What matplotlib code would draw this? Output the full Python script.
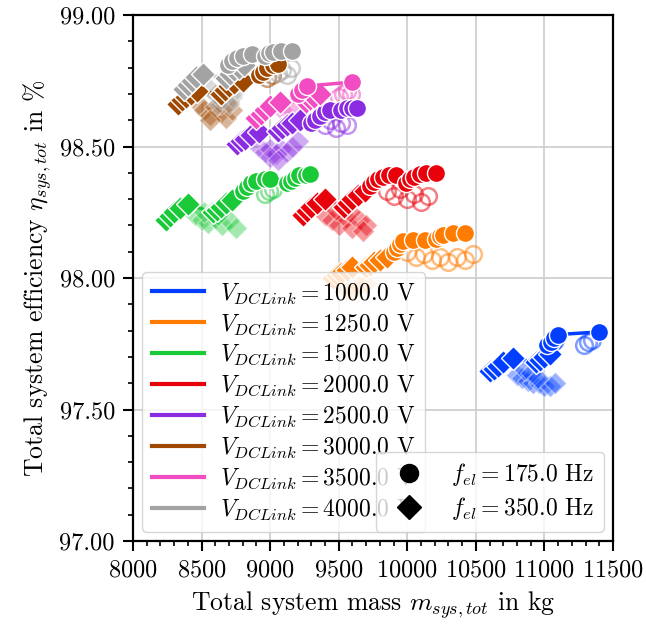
import matplotlib
matplotlib.use("Agg")
import matplotlib.pyplot as plt
from matplotlib.lines import Line2D
from matplotlib.ticker import MultipleLocator, FormatStrFormatter

plt.rcParams['font.family'] = 'serif'
plt.rcParams['font.serif'] = ['cmr10', 'DejaVu Serif']
plt.rcParams['mathtext.fontset'] = 'cm'
plt.rcParams['axes.unicode_minus'] = False
plt.rcParams['axes.formatter.use_mathtext'] = True

voltages = [1000.0, 1250.0, 1500.0, 2000.0, 2500.0, 3000.0, 3500.0, 4000.0]
colors = ['#023eff', '#ff7c00', '#1ac938', '#e8000b',
          '#8b2be2', '#9f4800', '#f14cc1', '#a3a3a3']

# f_el = 175 Hz, filled circles
circ_x = [
    [11020, 11045, 11070, 11100, 11400],
    [9900, 9925, 9950, 9970, 10040, 10130, 10210, 10240, 10260, 10330, 10420],
    [8800, 8830, 8860, 8900, 8960, 9000, 9120, 9150, 9180, 9210, 9260, 9290],
    [9730, 9760, 9790, 9820, 9870, 9920, 9990, 10020, 10050, 10090, 10140, 10210],
    [9300, 9330, 9360, 9400, 9440, 9520, 9560, 9600, 9630],
    [8920, 8950, 8980, 9020, 9060],
    [9200, 9230, 9270, 9600],
    [8690, 8720, 8760, 8800, 8870, 8960, 8990, 9020, 9080, 9160],
]
circ_y = [
    [97.745, 97.757, 97.77, 97.785, 97.795],
    [98.10, 98.115, 98.13, 98.14, 98.145, 98.145, 98.15, 98.16, 98.165, 98.17, 98.17],
    [98.33, 98.345, 98.36, 98.37, 98.375, 98.375, 98.36, 98.37, 98.38, 98.39, 98.39, 98.395],
    [98.35, 98.365, 98.375, 98.385, 98.39, 98.39, 98.36, 98.375, 98.385, 98.395, 98.40, 98.40],
    [98.59, 98.60, 98.615, 98.63, 98.64, 98.64, 98.645, 98.645, 98.645],
    [98.77, 98.785, 98.80, 98.81, 98.815],
    [98.70, 98.715, 98.73, 98.745],
    [98.81, 98.825, 98.835, 98.845, 98.85, 98.845, 98.855, 98.86, 98.865, 98.865],
]

# f_el = 350 Hz, filled diamonds
dia_x = [
    [10600, 10630, 10660, 10700, 10770, 10940, 10970, 11000, 11040],
    [9460, 9490, 9520, 9560, 9600, 9700, 9730, 9760, 9800, 9850],
    [8240, 8270, 8300, 8340, 8400, 8580, 8610, 8640, 8680, 8720],
    [9240, 9270, 9300, 9340, 9400, 9540, 9570, 9600, 9640, 9690],
    [8760, 8790, 8820, 8860, 8920, 9060, 9090, 9120, 9160, 9220],
    [8330, 8360, 8390, 8420, 8470, 8640, 8670, 8700, 8740, 8800],
    [8900, 8930, 8960, 9000, 9070, 9260, 9290, 9320, 9360],
    [8370, 8400, 8430, 8460, 8510, 8680, 8710, 8740, 8770, 8810],
]
dia_y = [
    [97.645, 97.655, 97.665, 97.68, 97.695, 97.68, 97.69, 97.70, 97.71],
    [98.00, 98.01, 98.02, 98.03, 98.04, 98.04, 98.05, 98.06, 98.07, 98.08],
    [98.22, 98.235, 98.25, 98.265, 98.28, 98.25, 98.26, 98.27, 98.285, 98.295],
    [98.24, 98.255, 98.27, 98.285, 98.30, 98.27, 98.285, 98.30, 98.315, 98.33],
    [98.51, 98.52, 98.53, 98.545, 98.555, 98.56, 98.57, 98.58, 98.59, 98.60],
    [98.66, 98.675, 98.69, 98.70, 98.71, 98.70, 98.715, 98.73, 98.74, 98.75],
    [98.61, 98.625, 98.64, 98.655, 98.67, 98.67, 98.68, 98.69, 98.70],
    [98.72, 98.735, 98.75, 98.765, 98.775, 98.76, 98.775, 98.79, 98.80, 98.81],
]

# faded variants (open circles / light diamonds)
open_circ_x = [
    [11060, 11080, 11290, 11320, 11350],
    [10000, 10060, 10120, 10180, 10240, 10300, 10360, 10420, 10480],
    [8960, 8990, 9020],
    [9850, 9900, 9950, 10000, 10050, 10100, 10150],
    [9400, 9440, 9480, 9520, 9560],
    [8980, 9010],
    [9500, 9530, 9560, 9590],
    [9060, 9090, 9120, 9150],
]
open_circ_y = [
    [97.755, 97.765, 97.745, 97.755, 97.765],
    [98.10, 98.08, 98.09, 98.07, 98.08, 98.06, 98.08, 98.07, 98.09],
    [98.32, 98.33, 98.34],
    [98.33, 98.31, 98.34, 98.30, 98.32, 98.29, 98.31],
    [98.58, 98.60, 98.57, 98.59, 98.58],
    [98.76, 98.77],
    [98.69, 98.70, 98.71, 98.70],
    [98.78, 98.79, 98.77, 98.80],
]
light_dia_x = [
    [10800, 10840, 10880, 10920, 10960, 11000, 11040, 11080, 10860, 10900, 10950],
    [9550, 9600, 9650, 9700],
    [8450, 8500, 8550, 8600, 8650, 8700, 8750, 8520, 8620],
    [9400, 9450, 9500, 9550, 9600, 9650, 9700, 9480, 9580, 9680],
    [8920, 8960, 9000, 9040, 9080, 9120, 9160, 9200, 9000, 9060],
    [8480, 8520, 8560, 8600, 8640, 8680, 8720, 8560, 8640, 8700],
    [9100, 9150],
    [8560, 8600, 8640, 8680, 8720, 8760, 8620, 8700],
]
light_dia_y = [
    [97.63, 97.62, 97.61, 97.60, 97.60, 97.59, 97.59, 97.60, 97.65, 97.64, 97.62],
    [97.96, 97.95, 97.97, 97.98],
    [98.24, 98.22, 98.21, 98.23, 98.20, 98.22, 98.19, 98.25, 98.24],
    [98.24, 98.22, 98.20, 98.23, 98.19, 98.22, 98.20, 98.26, 98.25, 98.18],
    [98.50, 98.48, 98.49, 98.47, 98.49, 98.48, 98.50, 98.52, 98.46, 98.45],
    [98.66, 98.64, 98.62, 98.65, 98.63, 98.61, 98.64, 98.60, 98.66, 98.67],
    [98.63, 98.64],
    [98.72, 98.70, 98.68, 98.71, 98.69, 98.72, 98.66, 98.66],
]

fig = plt.figure(figsize=(6.46, 6.24), dpi=100)
ax = fig.add_axes([133 / 646, 1 - 541 / 624, 480 / 646, 526 / 624])

for i, c in enumerate(colors):
    ax.plot(light_dia_x[i], light_dia_y[i], 'D', color=c, alpha=0.4, ms=11,
            mec='white', mew=1.0, zorder=2)
    ax.plot(open_circ_x[i], open_circ_y[i], 'o', mfc='none', mec=c, alpha=0.5,
            ms=12, mew=1.8, zorder=2)
for i, c in enumerate(colors):
    ax.plot(dia_x[i], dia_y[i], '-D', color=c, lw=2.5, ms=12,
            mec='white', mew=1.0, zorder=3)
    ax.plot(circ_x[i], circ_y[i], '-o', color=c, lw=2.5, ms=13,
            mec='white', mew=1.0, zorder=3)

ax.set_xlim(8000, 11500)
ax.set_ylim(97.0, 99.0)
ax.xaxis.set_major_locator(MultipleLocator(500))
ax.xaxis.set_minor_locator(MultipleLocator(100))
ax.yaxis.set_major_locator(MultipleLocator(0.5))
ax.yaxis.set_minor_locator(MultipleLocator(0.1))
ax.yaxis.set_major_formatter(FormatStrFormatter('%.2f'))
ax.tick_params(which='major', length=7, width=1.5, labelsize=17.5, pad=6)
ax.tick_params(which='minor', length=3.5, width=1.2)
ax.grid(True, which='major', color='#cccccc', lw=1.2, zorder=0)
ax.set_axisbelow(True)
for s in ax.spines.values():
    s.set_linewidth(1.6)

ax.set_xlabel(r'Total system mass $m_{sys,tot}$ in kg', fontsize=18.5,
              labelpad=6)
ax.set_ylabel(r'Total system efficiency $\eta_{sys,tot}$ in %', fontsize=18.5,
              labelpad=4)

handles = [Line2D([], [], color=c, lw=3) for c in colors]
labels = [r'$V_{DCLink} = %.1f$ V' % v for v in voltages]
leg1 = ax.legend(handles, labels, loc='lower left', fontsize=17,
                 framealpha=0.8, handlelength=2.2, handletextpad=0.7,
                 labelspacing=0.28, borderaxespad=0.4)
ax.add_artist(leg1)
mk = [Line2D([], [], ls='none', marker='o', color='black', ms=13),
      Line2D([], [], ls='none', marker='D', color='black', ms=12)]
ax.legend(mk, [r'$f_{el} = 175.0$ Hz', r'$f_{el} = 350.0$ Hz'],
          loc='lower right', fontsize=17, framealpha=0.8,
          labelspacing=0.3, borderaxespad=0.4)

fig.savefig('out.png', dpi=100)
